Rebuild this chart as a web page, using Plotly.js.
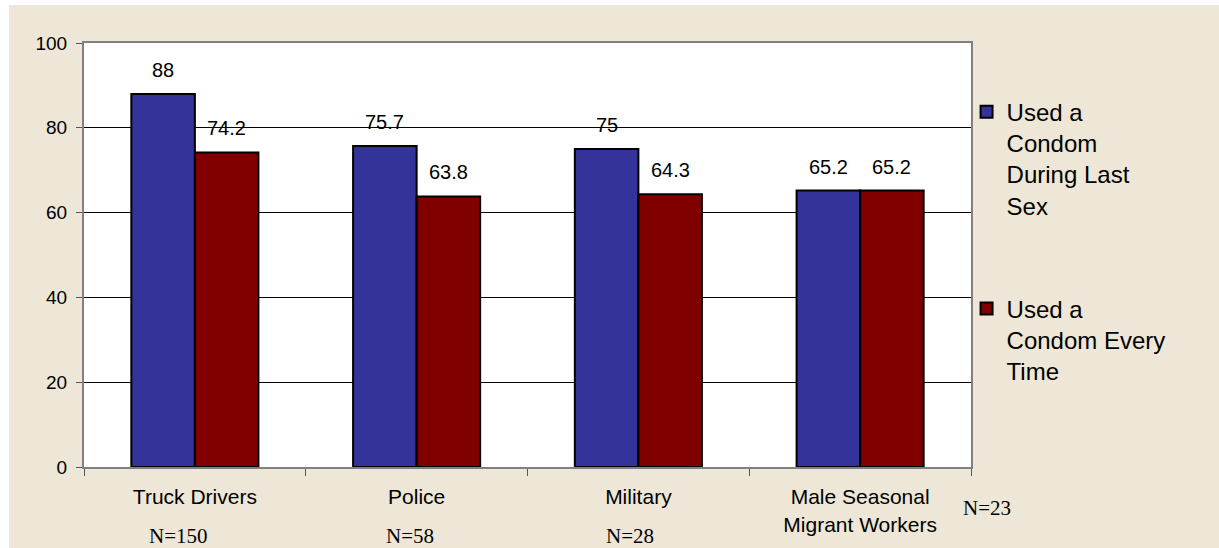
<!DOCTYPE html>
<html>
<head>
<meta charset="utf-8">
<script src="https://cdn.plot.ly/plotly-3.0.1.min.js"></script>
<style>
  html, body { margin: 0; padding: 0; background: #ffffff; width: 1219px; height: 548px; overflow: hidden; }
  #chart { position: absolute; left: 9px; top: 5px; width: 1210px; height: 543px; }
</style>
</head>
<body>
<div id="chart"></div>
<script>
// ---- data ----
const categories = ['Truck Drivers', 'Police', 'Military', 'Male Seasonal<br>Migrant Workers'];
const usedLastSex = [88, 75.7, 75, 65.2];
const usedEveryTime = [74.2, 63.8, 64.3, 65.2];
const sampleSizes = ['N=150', 'N=58', 'N=28', 'N=23'];
const seriesNames = ['Used a<br>Condom<br>During Last<br>Sex', 'Used a<br>Condom Every<br>Time'];

// ---- layout helpers (positions, not data) ----
const nLabelX = [0.106, 0.3675, 0.616, 1.018];   // paper fraction
const nLabelShift = [-69, -69, -69, -41];         // px below plot bottom
const BARGAP = 0.427;
const half = (1 - BARGAP) / 4;

const FONT = 'Liberation Sans, Arial, sans-serif';
const SERIF = 'Liberation Serif, Times New Roman, serif';

const traces = [
  {
    type: 'bar', name: seriesNames[0], x: categories, y: usedLastSex,
    marker: { color: '#333399', line: { color: '#000000', width: 2 } },
    legendgroup: 'a', hoverinfo: 'y'
  },
  {
    type: 'bar', name: seriesNames[1], x: categories, y: usedEveryTime,
    marker: { color: '#800000', line: { color: '#000000', width: 2 } },
    legendgroup: 'b', hoverinfo: 'y'
  }
];

const annotations = [];
categories.forEach((c, i) => {
  [[usedLastSex, -half], [usedEveryTime, half]].forEach(([arr, off]) => {
    annotations.push({
      x: i + off, y: arr[i], xref: 'x', yref: 'y',
      text: String(arr[i]), showarrow: false,
      xanchor: 'center', yanchor: 'middle', yshift: 24,
      font: { family: FONT, size: 20, color: '#000' }
    });
  });
  annotations.push({
    x: nLabelX[i], xref: 'paper', y: 0, yref: 'paper',
    text: sampleSizes[i], showarrow: false,
    xanchor: 'center', yanchor: 'middle', yshift: nLabelShift[i],
    font: { family: SERIF, size: 21, color: '#000' }
  });
});

const layout = {
  width: 1210, height: 543,
  paper_bgcolor: '#EEE7D7',
  plot_bgcolor: '#FFFFFF',
  margin: { l: 75, r: 248, t: 38, b: 81 },
  barmode: 'group', bargap: BARGAP, bargroupgap: 0,
  showlegend: true,
  legend: {
    x: 0.995, xanchor: 'left', y: 0.89, yanchor: 'top',
    font: { family: FONT, size: 24, color: '#000' },
    traceorder: 'grouped', tracegroupgap: 69, valign: 'top',
    bgcolor: 'rgba(0,0,0,0)'
  },
  xaxis: {
    type: 'category', tickson: 'boundaries', ticks: 'outside', ticklen: 7, tickwidth: 1,
    tickcolor: '#555', showline: true, linecolor: '#808080', linewidth: 2, mirror: true,
    showgrid: false, tickfont: { family: FONT, size: 21, color: '#000' },
    ticklabelstandoff: 10, range: [-0.5, 3.5]
  },
  yaxis: {
    range: [0, 100], dtick: 20, tick0: 0, ticks: 'outside', ticklen: 6, tickwidth: 1,
    tickcolor: '#555', showline: true, linecolor: '#808080', linewidth: 2, mirror: true,
    showgrid: true, gridcolor: '#000000', gridwidth: 1, zeroline: false,
    tickfont: { family: FONT, size: 19, color: '#000' }, ticklabelstandoff: 5
  },
  annotations: annotations,
  font: { family: FONT }
};

Plotly.newPlot('chart', traces, layout, { displayModeBar: false, staticPlot: true });
</script>
</body>
</html>
